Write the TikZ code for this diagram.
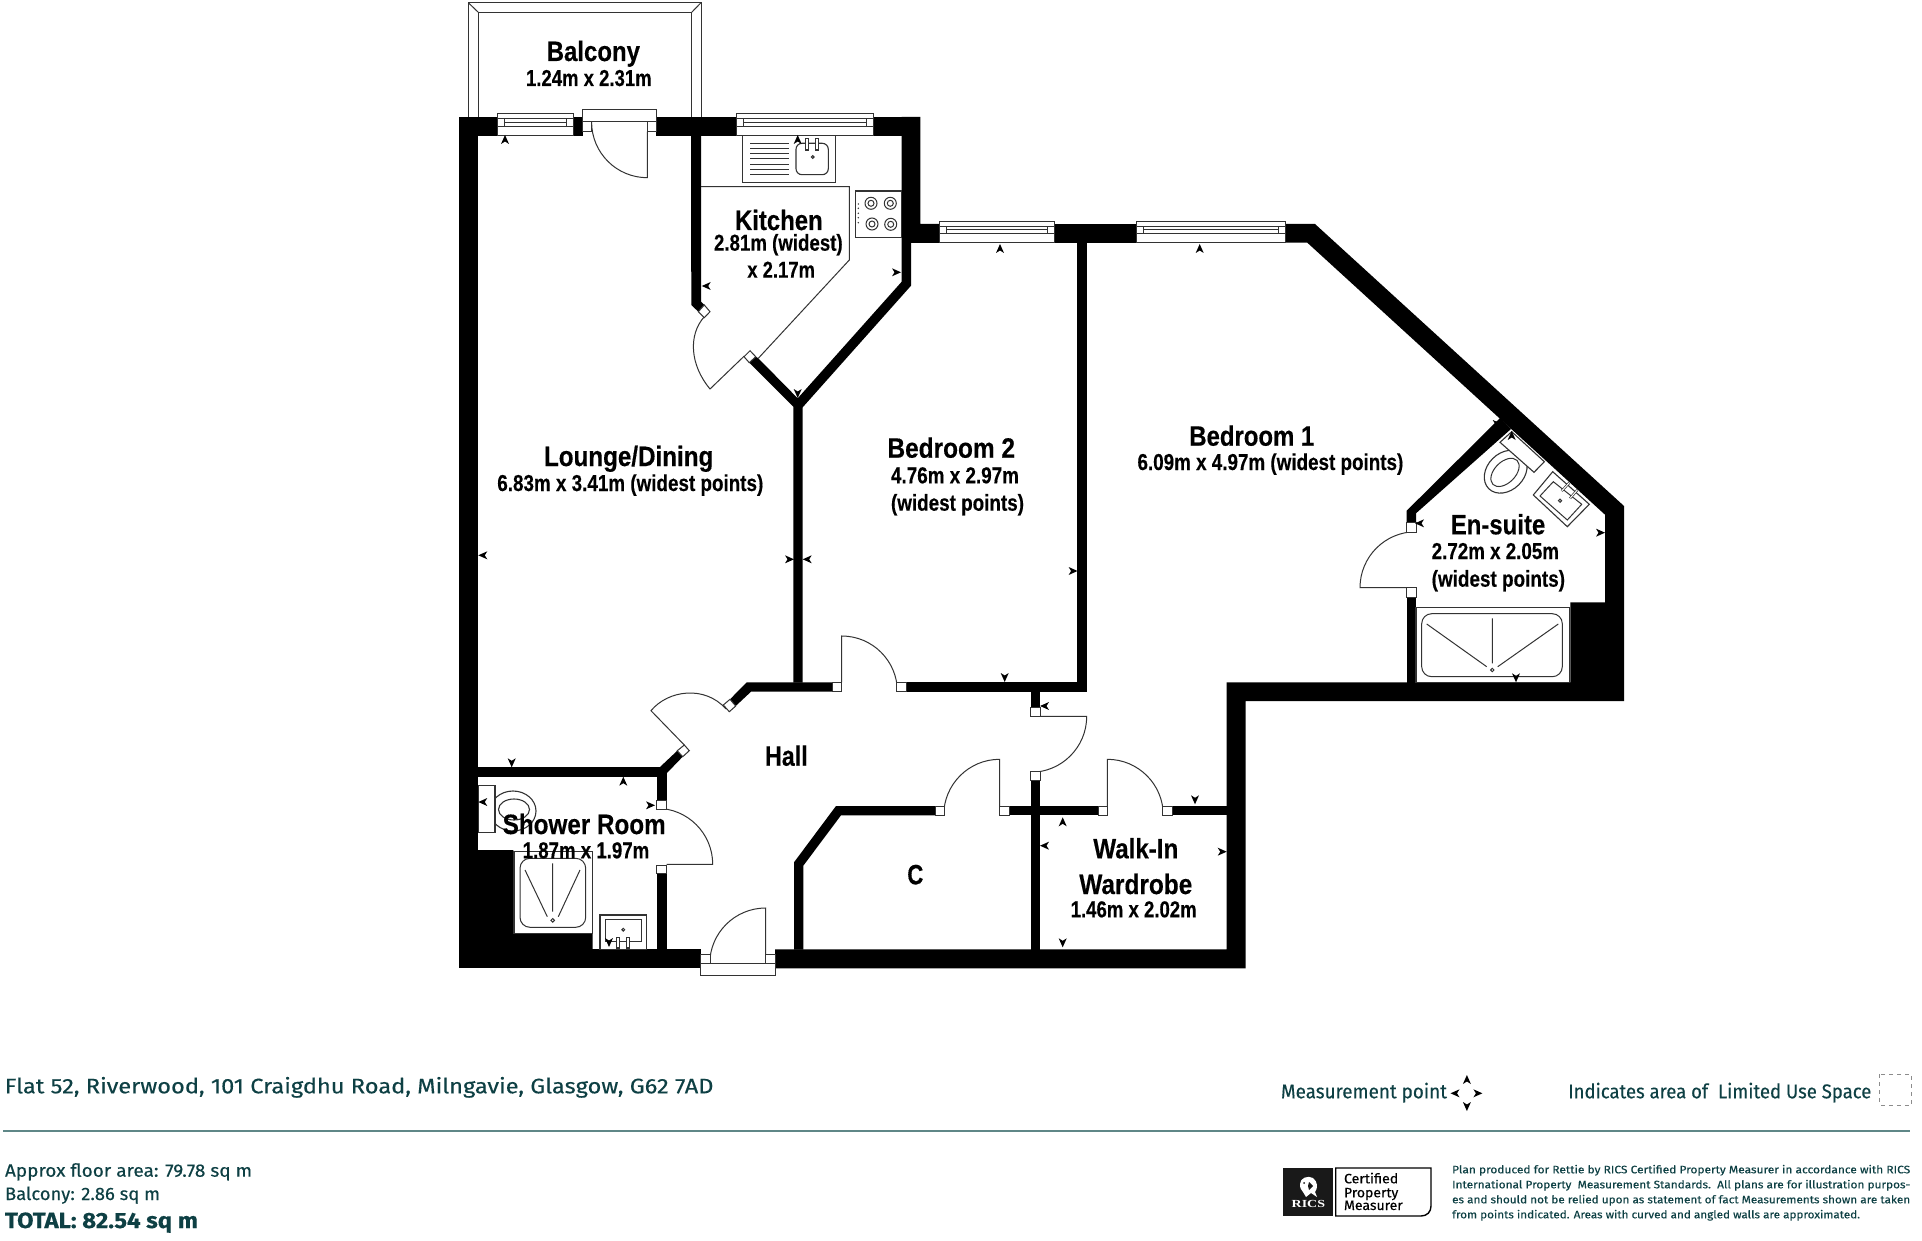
\documentclass[tikz,border=0pt]{standalone}
\usepackage{fontspec}
\usepackage{graphicx}
\setmainfont[BoldFeatures={FakeBold=0.35}]{Liberation Sans}
\newfontfamily\fira[FakeBold=0.25,BoldFeatures={FakeBold=0.3}]{Fira Sans}
\newfontfamily\rserif{Liberation Serif}
\definecolor{teal1}{HTML}{0E4044}
\definecolor{rule1}{HTML}{5F8787}
\definecolor{thinc}{HTML}{333333}
\newsavebox\tb
\newcommand\wt[3]{\sbox\tb{\fontsize{#2}{#2}\selectfont #3}\pgfmathsetmacro\rr{(#1)*0.5/\the\wd\tb}\scalebox{\rr}[1]{\usebox\tb}}
\newcommand\lbl[7]{\node[#1,inner sep=0,outer sep=0,anchor=base west] (#2) at (#3,#5) {\pgfmathsetmacro\ww{#4-#3}\wt{\ww}{#6}{#7}};}
\newcommand\mk[3]{\fill[black,shift={(#1,#2)},rotate=#3] (0,-5)--(4,4)--(0,1.5)--(-4,4)--cycle;}
\newcommand\blk[4]{\fill[black] (#1,#2) rectangle (#3,#4);}
\newcommand\jamb[4]{\filldraw[thinline,fill=white] (#1,#2) rectangle (#3,#4);}
\newcommand\win[3]{\filldraw[thinline,fill=white] (#1,#3) rectangle (#2,#3+21.5);
 \draw[thinline] (#1,#3+5) rectangle (#2,#3+12.3);
 \draw[thinline] (#1+7,#3+5) rectangle (#2-7,#3+12.3);
 \draw[thinline] (#1+7,#3+8.6) -- (#2-7,#3+8.6);}
\tikzset{
 thinline/.style={draw=thinc,line width=0.5pt},
 fixture/.style={draw=thinc,line width=0.55pt,fill=white},
 roomtxt/.style={font=\bfseries,text=black},
 foot/.style={font=\fira,text=teal1},
 footb/.style={font=\fira\bfseries,text=teal1},
 ricst/.style={font=\fira,text=black},
 ricsw/.style={font=\rserif\bfseries,text=white},
}
\begin{document}
\begin{tikzpicture}[x=0.5pt,y=-0.5pt]
\useasboundingbox (0,0) rectangle (1922,1241);
\fill[white] (0,0) rectangle (1922,1241);
% balcony
\draw[draw=thinc,line width=0.5pt] (468.3,117) -- (468.3,2.7) -- (701,2.7) -- (701,117);
\draw[draw=thinc,line width=0.5pt] (478.3,117) -- (478.3,12.3) -- (691.7,12.3) -- (691.7,117);
\draw[draw=thinc,line width=0.5pt] (468.3,2.7) -- (478.3,12.3) (701,2.7) -- (691.7,12.3);
% walls
\blk{459.3}{117}{478.3}{968.3}
\blk{459.3}{117}{497}{135.7}
\blk{573.3}{117}{582.7}{135.7}
\blk{656.3}{117}{736.3}{135.7}
\fill (691,135) -- (701,135) -- (701,301.7) -- (704.3,305) -- (698.3,311.7) -- (691.3,305) -- cycle;
\blk{873.3}{117}{920.3}{135.7}
\fill (901.7,117) -- (920.3,117) -- (920.3,224) -- (939.7,224) -- (939.7,243) -- (911,243) -- (911,285.7) -- (802.7,407.3) -- (802.7,682.5) -- (793.3,682.5) -- (793.3,406.7) -- (749.3,362.7) -- (755.7,356.7) -- (758.3,358.3) -- (797.7,398.3) -- (901.7,281.7) -- cycle;
\blk{1054}{224}{1136.7}{243}
\blk{1077}{243}{1087}{691.7}
\fill (1285.7,224) -- (1315,224) -- (1624,506) -- (1624,701) -- (1245.7,701) -- (1245.7,968.3) -- (775,968.3) -- (775,949.3) -- (1226.7,949.3) -- (1226.7,682.3) -- (1570.3,682.3) -- (1570.3,602.3) -- (1605,602.3) -- (1605,514.7) -- (1307.3,242.7) -- (1285.7,242.7) -- cycle;
\blk{459.3}{949.3}{700.7}{968.3}
\fill (478,850) -- (513.3,850) -- (513.3,933.3) -- (592.7,933.3) -- (592.7,949.4) -- (478,949.4) -- cycle;
\blk{1406.7}{597.3}{1416}{682.5}
\fill (1406.7,522.7) -- (1406.7,510.7) -- (1500,418) -- (1511,429) -- (1416,513.3) -- (1416,522.7) -- cycle;
\blk{478}{767}{660}{776.7}
\fill (660,767) -- (677.3,750.7) -- (682.7,756.7) -- (666.7,773.3) -- (666.7,776.7) -- (660,776.7) -- cycle;
\blk{656.7}{773}{666.7}{800}
\blk{656.7}{873.3}{666.7}{949.5}
\fill (730,699.3) -- (746.7,682.3) -- (832.7,682.3) -- (832.7,691.7) -- (751,691.7) -- (735.7,706) -- cycle;
\blk{906.7}{682.3}{1087}{691.7}
\blk{1030.7}{691.7}{1040.3}{707.3}
\blk{1030.7}{780.7}{1040.3}{949.5}
\blk{1009}{806}{1098.3}{815.3}
\blk{1172.3}{806}{1226.8}{815.3}
\fill (794,949.5) -- (794,862.3) -- (836,806) -- (935,806) -- (935,815.3) -- (841,815.3) -- (803.3,865.7) -- (803.3,949.5) -- cycle;
% windows
\win{497}{573.3}{114}
\win{736.3}{873.3}{114}
\win{939.3}{1054}{221.3}
\win{1136.7}{1285.7}{221.3}
% door leaves and swings
\draw[thinline] (647.3,131.7) -- (647.3,177.7) arc[start angle=90,end angle=180,radius=55.7];
\draw[thinline] (704.3,316.7) .. controls (688,335) and (690,365) .. (710,389) -- (744.3,356);
\draw[thinline] (726,709) .. controls (705,685) and (668,690) .. (651,710.7) -- (684.3,745);
\draw[thinline] (841.7,682.3) -- (841.7,636) arc[start angle=-90,end angle=0,radius=55.7];
\draw[thinline] (666.7,864.3) -- (712.7,864.3) arc[start angle=0,end angle=-90,radius=56];
\draw[thinline] (765.7,954) -- (765.7,908) arc[start angle=-90,end angle=-180,radius=56];
\draw[thinline] (999.7,806) -- (999.7,759.3) arc[start angle=-90,end angle=-180,radius=56];
\draw[thinline] (1107.3,806) -- (1107.3,759.3) arc[start angle=-90,end angle=0,radius=56];
\draw[thinline] (1040.3,716.3) -- (1086.7,716.3) arc[start angle=0,end angle=90,radius=56];
\draw[thinline] (1406.7,587.7) -- (1360,587.7) arc[start angle=180,end angle=270,radius=56];
% door frames
\jamb{582.3}{109.3}{656.3}{121.7}
\jamb{582.7}{121.7}{591.7}{131.7}
\jamb{647.3}{121.7}{656.3}{131.7}
\jamb{700.7}{963.3}{775}{975.7}
\jamb{700.7}{954}{710}{963.3}
\jamb{765.7}{954}{775}{963.3}
\jamb{656.7}{800}{666.7}{809}
\jamb{656.7}{865}{666.7}{873.3}
\jamb{832.7}{682.3}{841.7}{691.7}
\jamb{896.7}{682.3}{906.7}{691.7}
\jamb{1030.7}{707.3}{1040.3}{716.7}
\jamb{1030.7}{771.7}{1040.3}{780.7}
\jamb{935}{806}{944.3}{815.3}
\jamb{999.7}{806}{1009}{815.3}
\jamb{1098.3}{806}{1107.3}{815.3}
\jamb{1162.7}{806}{1172.3}{815.3}
\jamb{1406.7}{522.7}{1416}{532.3}
\jamb{1406.7}{587.7}{1416}{597.3}
\filldraw[thinline,fill=white] (698.3,311.7) -- (704.3,305) -- (710,311.7) -- (704.3,317.7) -- cycle;
\filldraw[thinline,fill=white] (744,356.7) -- (750,350.7) -- (755.7,356.7) -- (749.3,362.7) -- cycle;
\filldraw[thinline,fill=white] (677.3,750.7) -- (682.7,756.7) -- (689.3,750.7) -- (684.3,745) -- cycle;
\filldraw[thinline,fill=white] (723.3,705) -- (729.3,711.7) -- (735.7,706) -- (730,699.3) -- cycle;
% kitchen fittings
\draw[thinline] (701,186.7) -- (849.3,186.7) -- (849.3,260) -- (758.3,358.3);
\draw[fixture] (742.7,135.7) rectangle (835.7,182.3);
\foreach \yy in {143.3,148.5,153.7,159,164.2,169.4,174.7} \draw[thinline] (750,\yy) -- (789.3,\yy);
\draw[fixture,rounded corners=3pt] (796,143.3) rectangle (828.3,174.7);
\draw[fixture] (805.2,138.3) rectangle (808.2,150);
\draw[fixture] (815.8,138.3) rectangle (818.8,150);
\draw[thinline] (812.7,157) circle[radius=1.4];
\draw[fixture] (855.7,191) rectangle (901.7,237.3);
\foreach \px/\py in {871/203.3,890.3/203.3,872/224,890.7/224.3}{\draw[thinline] (\px,\py) circle[radius=6];\draw[thinline] (\px,\py) circle[radius=3];}
\foreach \yy in {204,208.3,213.3,217.7,222.7} \fill[thinc] (858.3,\yy) circle[radius=0.8];
% shower room fittings
\draw[fixture] (513,811) ellipse[x radius=23,y radius=20];
\draw[fixture] (514,809.5) ellipse[x radius=15.5,y radius=10.5];
\draw[fixture] (478.3,785.7) rectangle (495,832.3);
\fill[black] (478,850) rectangle (513.3,860);
\draw[fixture] (514,851.7) rectangle (592.3,933.3);
\draw[thinline,rounded corners=5pt] (520,858.3) rectangle (585.7,927.3);
\draw[thinline] (552.7,863.3) -- (552.7,911.7) (525,870) -- (547.3,916.7) (580,870) -- (558.3,916.7);
\draw[thinline] (552.7,920.3) circle[radius=1.8];
\draw[fixture] (600,915) rectangle (646.7,949.3);
\draw[thinline] (605,919.3) rectangle (641.7,941.7);
\draw[fixture] (616.8,937.3) rectangle (619.8,948);
\draw[fixture] (626.8,937.3) rectangle (629.8,948);
\draw[thinline] (623.3,929.7) circle[radius=1.4];
% en-suite fittings
\begin{scope}[shift={(1505.7,471.7)},rotate=45]
\draw[fixture] (0,0) ellipse[x radius=24,y radius=18.5];
\draw[thinline] (-1,0) ellipse[x radius=17,y radius=10.5];
\end{scope}
\filldraw[fixture] (1500,442.3) -- (1534,472.3) -- (1544.3,461.7) -- (1511.7,431.7) -- cycle;
\draw[fixture] (1552.7,471.7) -- (1533.3,495) -- (1567.3,526.7) -- (1589.3,504.3) -- cycle;
\draw[thinline] (1553.3,481.7) -- (1540,496) -- (1567.3,520) -- (1581.7,504.3) -- cycle;
\draw[thinline,line width=1.2pt] (1561.7,491) -- (1569.3,482.7);
\draw[white,line width=0.5pt] (1561.7,491) -- (1569.3,482.7);
\draw[thinline,line width=1.2pt] (1570,498.3) -- (1577.3,490);
\draw[white,line width=0.5pt] (1570,498.3) -- (1577.3,490);
\draw[thinline] (1560,500.7) circle[radius=1.6];
\draw[fixture] (1416,607.3) rectangle (1569.5,682.3);
\draw[thinline,rounded corners=5pt] (1421.7,613.7) rectangle (1562.3,676.7);
\draw[thinline] (1492.3,618.3) -- (1492.3,663.3) (1426.7,624) -- (1486.7,666.7) (1558.3,624) -- (1497.7,666.7);
\draw[thinline] (1492.3,670) circle[radius=1.7];
% measurement points
\mk{505}{140}{0}\mk{797.7}{140}{0}\mk{706.7}{286}{90}\mk{896}{272.3}{-90}\mk{797.7}{393}{180}
\mk{483.3}{555.3}{90}\mk{789}{559.3}{-90}\mk{807.7}{559.3}{90}\mk{1072.6}{571}{-90}
\mk{1000}{249}{0}\mk{1199.7}{249}{0}\mk{1004.7}{677}{180}\mk{1045}{706}{90}
\mk{1062.7}{822.3}{0}\mk{1045}{845.7}{90}\mk{1221.7}{851.7}{-90}\mk{1062.7}{942.3}{180}\mk{1195}{799.3}{180}
\mk{511.7}{762.3}{180}\mk{623.3}{781.7}{0}\mk{483.3}{802}{90}\mk{650}{805.3}{-90}\mk{609}{942}{180}
\mk{1496.7}{424}{-90}\mk{1511.7}{436}{0}\mk{1420}{523.3}{90}\mk{1600}{532.7}{-90}\mk{1516}{677.3}{180}
% room labels
\lbl{roomtxt}{tBal}{546.7}{640}{61}{14}{Balcony}
\lbl{roomtxt}{tBalD}{526}{651.7}{86}{11.5}{1.24m x 2.31m}
\lbl{roomtxt}{tKit}{735}{822.7}{230}{14}{Kitchen}
\lbl{roomtxt}{tKitD}{714}{842.7}{250.7}{11.5}{2.81m (widest)}
\lbl{roomtxt}{tKitE}{747.3}{815}{277.7}{11.5}{x 2.17m}
\lbl{roomtxt}{tLou}{544}{713.3}{466}{14}{Lounge/Dining}
\lbl{roomtxt}{tLouD}{497.3}{763.3}{491}{11.5}{6.83m x 3.41m (widest points)}
\lbl{roomtxt}{tBed2}{887.5}{1015}{457.7}{14}{Bedroom 2}
\lbl{roomtxt}{tBed2D}{891}{1019}{483.3}{11.5}{4.76m x 2.97m}
\lbl{roomtxt}{tBed2E}{891}{1024}{510.7}{11.5}{(widest points)}
\lbl{roomtxt}{tBed1}{1189.3}{1314.3}{445.7}{14}{Bedroom 1}
\lbl{roomtxt}{tBed1D}{1137.5}{1403.3}{470}{11.5}{6.09m x 4.97m (widest points)}
\lbl{roomtxt}{tEn}{1450.7}{1545.3}{534.3}{14}{En-suite}
\lbl{roomtxt}{tEnD}{1431.7}{1559}{559}{11.5}{2.72m x 2.05m}
\lbl{roomtxt}{tEnE}{1431.7}{1565}{586.7}{11.5}{(widest points)}
\lbl{roomtxt}{tHall}{765}{807.7}{765.7}{14}{Hall}
\lbl{roomtxt}{tShow}{502.7}{665.7}{834}{14}{Shower Room}
\lbl{roomtxt}{tShowD}{522.7}{649.3}{858.3}{11.5}{1.87m x 1.97m}
\lbl{roomtxt}{tC}{907.3}{923.3}{884.3}{14}{C}
\lbl{roomtxt}{tWalk}{1093.3}{1178.3}{858.3}{14}{Walk-In}
\lbl{roomtxt}{tWard}{1079.3}{1192.3}{894}{14}{Wardrobe}
\lbl{roomtxt}{tWardD}{1070.7}{1196.7}{917.3}{11.5}{1.46m x 2.02m}
% footer
\lbl{foot}{fAddr}{4.8}{713.5}{1093.3}{10.5}{Flat 52, Riverwood, 101 Craigdhu Road, Milngavie, Glasgow, G62 7AD}
\lbl{foot}{fMeas}{1281}{1447}{1098.3}{10}{Measurement point}
\mk{1466.9}{1080}{0}\mk{1455.5}{1093.3}{90}\mk{1477.4}{1093.3}{-90}\mk{1466.9}{1106}{180}
\lbl{foot}{fInd}{1568.2}{1871.3}{1098.3}{10}{Indicates area of\ \ Limited Use Space}
\draw[draw=black!45,line width=0.5pt,dash pattern=on 2pt off 2pt] (1879.8,1074) rectangle (1911.4,1105);
\draw[rule1,line width=0.8pt] (3,1131) -- (1910,1131);
\lbl{foot}{fArea}{5}{252}{1176.7}{9}{Approx floor area: 79.78 sq m}
\lbl{foot}{fBal}{5}{160}{1200}{9}{Balcony: 2.86 sq m}
\lbl{footb}{fTot}{5}{198}{1228}{11}{TOTAL: 82.54 sq m}
% RICS mark
\fill[black!90] (1283.3,1168) rectangle (1332.7,1216);
\draw[black,line width=0.7pt] (1431,1168) -- (1431,1206) .. controls (1431,1212) and (1427,1216) .. (1421,1216) -- (1335.7,1216) -- (1335.7,1168) -- cycle;
\fill[white] (1300,1184) .. controls (1300,1178) and (1308,1175) .. (1313,1178) .. controls (1318,1182) and (1318,1188) .. (1315,1192) -- (1317,1197) -- (1311,1193) -- (1306,1197) -- (1303,1192) .. controls (1301,1190) and (1300,1188) .. (1300,1184) -- cycle;
\fill[black!90] (1304,1183) circle[radius=1] (1309,1182) -- (1313,1186) -- (1309,1190) -- (1308,1186) -- cycle;
\lbl{ricsw}{fRics}{1291.7}{1325}{1207.3}{5.4}{RICS}
\lbl{ricst}{fCert}{1344}{1398.3}{1183.3}{6.8}{Certified}
\lbl{ricst}{fProp}{1344}{1398.3}{1197.3}{6.8}{Property}
\lbl{ricst}{fMs}{1344}{1402.7}{1210}{6.8}{Measurer}
\lbl{foot}{fD1}{1452.1}{1910.2}{1173.3}{5.4}{Plan produced for Rettie by RICS Certified Property Measurer in accordance with RICS}
\lbl{foot}{fD2}{1452.1}{1910.2}{1188.3}{5.4}{International Property\ \ Measurement Standards.\ \ All plans are for illustration purpos-}
\lbl{foot}{fD3}{1452.1}{1910.2}{1203.3}{5.4}{es and should not be relied upon as statement of fact Measurements shown are taken}
\lbl{foot}{fD4}{1452.1}{1860}{1218.3}{5.4}{from points indicated. Areas with curved and angled walls are approximated.}
\end{tikzpicture}
\end{document}
